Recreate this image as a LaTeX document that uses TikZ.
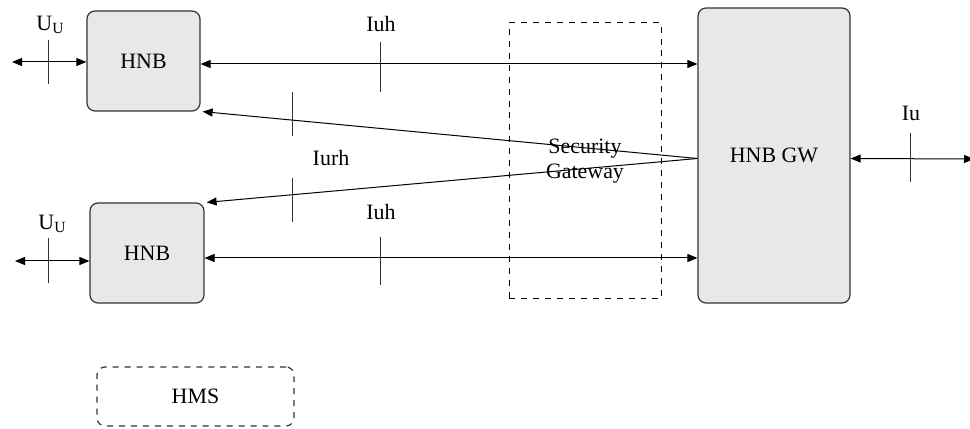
\documentclass[tikz,border=0pt]{standalone}
\usepackage{fontspec}
\setmainfont{Liberation Serif}
\usetikzlibrary{arrows.meta}
\definecolor{boxfill}{HTML}{E8E8E8}
\definecolor{boxline}{HTML}{333333}
\tikzset{
  ent/.style={draw=boxline, fill=boxfill, rounded corners=4bp, line width=0.6bp, font=\fontsize{11}{12}\selectfont, inner sep=0pt},
  dashbox/.style={draw=black, dashed, line width=0.5bp, inner sep=0pt},
  conn/.style={line width=0.5bp, -{Triangle[length=5bp,width=4bp]}},
  bconn/.style={line width=0.5bp, {Triangle[length=5bp,width=4bp]}-{Triangle[length=5bp,width=4bp]}},
  tick/.style={line width=0.5bp, draw=black!80},
  lbl/.style={font=\fontsize{11}{12}\selectfont, inner sep=0pt}
}
\newcommand{\uusym}{U\raisebox{-0.35ex}{\fontsize{7.8}{8}\selectfont U}}
\begin{document}
\begin{tikzpicture}[x=0.5bp,y=-0.5bp]
\useasboundingbox (0,0) rectangle (970,429);
% boxes
\node[ent, minimum width=56.5bp, minimum height=50bp] (hnb1) at (143.5,61) {HNB};
\node[ent, minimum width=57bp, minimum height=50bp] (hnb2) at (147,253) {HNB};
\node[ent, minimum width=76bp, minimum height=147.5bp] (gw) at (774,155.5) {HNB GW};
\node[dashbox, minimum width=76bp, minimum height=138bp] (sg) at (585,161) {};
\node[lbl, align=center, font=\fontsize{11}{12.5}\selectfont] (sgt) at (585,161) {Security\\Gateway};
\node[draw=boxline, dashed, rounded corners=4bp, line width=0.6bp, minimum width=98.5bp, minimum height=29.5bp, inner sep=0pt, font=\fontsize{11}{12}\selectfont] (hms) at (195.5,396.5) {HMS};
% free ends
\coordinate (uu1) at (12,62);
\coordinate (uu2) at (15,261);
\coordinate (iuend) at (974,159);
% connectors
\draw[bconn] (uu1) -- (hnb1.west |- uu1);
\draw[bconn] (uu2) -- (hnb2.west |- uu2);
\draw[bconn] ([yshift=-1.5bp]hnb1.east) -- ([yshift=-1.5bp]hnb1.east -| gw.west);
\draw[bconn] ([yshift=-2.5bp]hnb2.east) -- ([yshift=-2.5bp]hnb2.east -| gw.west);
\draw[conn] ([yshift=-1.5bp]gw.west) -- ([xshift=1bp]hnb1.south east);
\draw[conn] ([yshift=-1.5bp]gw.west) -- ([xshift=1bp]hnb2.north east);
\draw[bconn] ([yshift=-1.5bp]gw.east) -- (iuend);
% ticks
\draw[tick] (48,40) -- (48,84);
\draw[tick] (48,238) -- (48,283);
\draw[tick] (380,42) -- (380,92);
\draw[tick] (380,237) -- (380,285);
\draw[tick] (292,92) -- (292,136);
\draw[tick] (292,178) -- (292,222);
\draw[tick] (910,133) -- (910,182);
% labels
\node[lbl] (l1) at (50,25) {\uusym};
\node[lbl] (l2) at (52,224) {\uusym};
\node[lbl] (l3) at (381,24) {Iuh};
\node[lbl] (l4) at (381,212) {Iuh};
\node[lbl] (l5) at (331,158) {Iurh};
\node[lbl] (l6) at (911,113) {Iu};
\end{tikzpicture}
\end{document}
